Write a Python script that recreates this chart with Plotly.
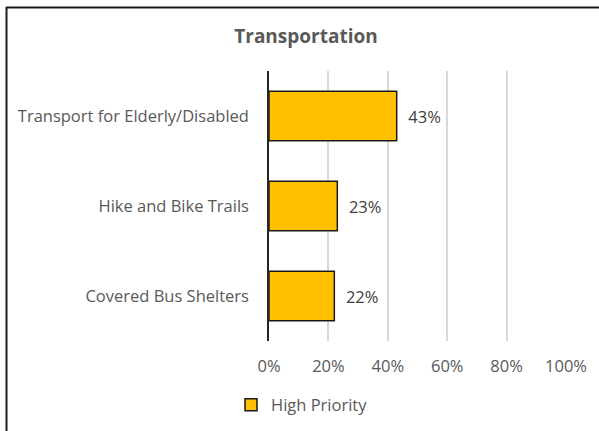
import plotly.graph_objects as go

categories = ["Transport for Elderly/Disabled", "Hike and Bike Trails", "Covered Bus Shelters"]
high_priority = [0.43, 0.23, 0.22]
x_ticks = [0, 0.2, 0.4, 0.6, 0.8, 1.0]
x_tick_labels = ["0%", "20%", "40%", "60%", "80%", "100%"]

W, H = 599, 431
L, R, T, B = 269, 33, 71, 90
pw, ph = W - L - R, H - T - B

def px_x(p):
    return (p - L) / pw

def px_y(p):
    return (H - B - p) / ph

FONT = "Open Sans"
GREY = "#595959"
FS = 16.5

fig = go.Figure()
fig.add_trace(go.Bar(
    y=categories,
    x=high_priority,
    orientation="h",
    name="High Priority",
    marker=dict(color="#FFC000", line=dict(color="#1a1a1a", width=1.5)),
    texttemplate="\u00a0\u00a0%{x:.0%}",
    textposition="outside",
    textfont=dict(family=FONT, size=FS, color="#404040"),
    cliponaxis=False,
))

fig.update_layout(
    width=W, height=H,
    margin=dict(l=L, r=R, t=T, b=B, autoexpand=False),
    paper_bgcolor="white",
    plot_bgcolor="white",
    bargap=0.45,
    title=dict(text="<b>Transportation</b>", x=306 / W, xanchor="center",
               y=1 - 36 / H, yanchor="middle",
               font=dict(family=FONT, size=19, color=GREY)),
    showlegend=True,
    legend=dict(orientation="h", x=px_x(231), xanchor="left",
                y=px_y(405), yanchor="middle",
                font=dict(family=FONT, size=FS, color=GREY),
                itemwidth=30, bgcolor="rgba(0,0,0,0)"),
    font=dict(family=FONT, size=FS, color=GREY),
)

fig.update_xaxes(
    range=[0, 1], tickvals=x_ticks, ticktext=x_tick_labels,
    showgrid=True, gridcolor="#d9d9d9", gridwidth=1.5,
    zeroline=False, showline=False, ticks="",
    ticklabelstandoff=13,
    tickfont=dict(family=FONT, size=FS, color=GREY),
)
fig.update_yaxes(
    categoryorder="array", categoryarray=categories[::-1],
    showline=True, linecolor="#262626", linewidth=1.5,
    showgrid=False, ticks="", ticklabelstandoff=15,
    tickfont=dict(family=FONT, size=FS, color=GREY),
)

# chart frame: left and top edges
fig.add_shape(type="line", xref="paper", yref="paper",
              x0=px_x(6.5), x1=px_x(6.5), y0=px_y(7), y1=px_y(440),
              line=dict(color="#1a1a1a", width=2))
fig.add_shape(type="line", xref="paper", yref="paper",
              x0=px_x(6), x1=px_x(610), y0=px_y(7.5), y1=px_y(7.5),
              line=dict(color="#1a1a1a", width=2))

fig.write_html("out.html")
